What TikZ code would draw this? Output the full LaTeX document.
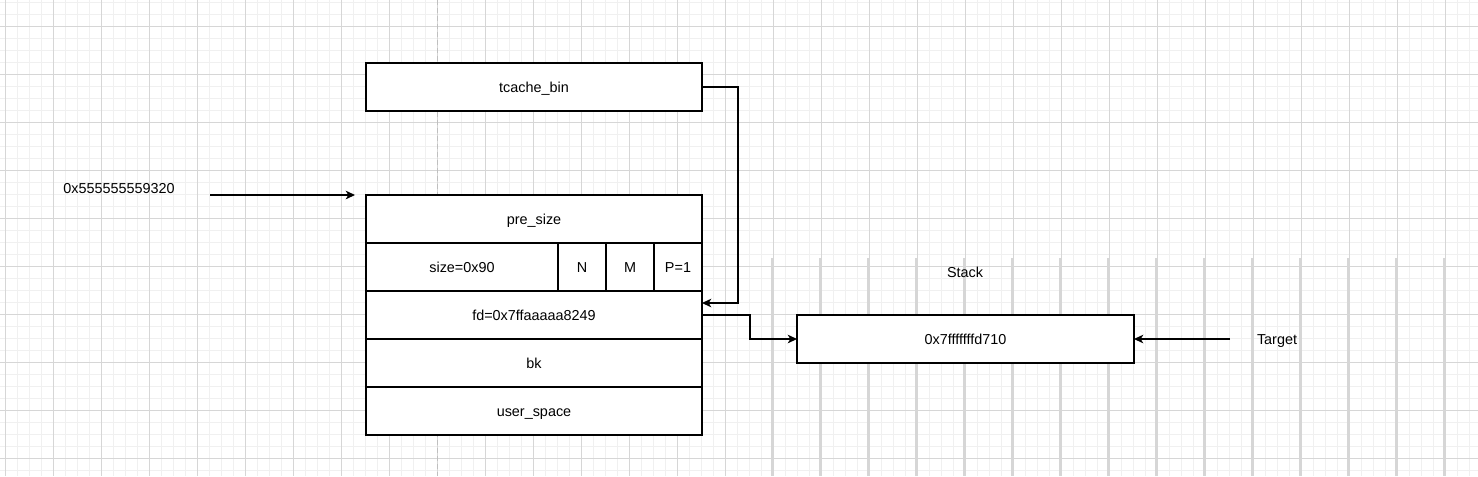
\documentclass[tikz,border=0pt]{standalone}
\usepackage{fontspec}
\setmainfont{Liberation Sans}
\usetikzlibrary{arrows.meta}

\definecolor{gridmajor}{HTML}{D6D6D6}
\definecolor{gridminor}{HTML}{F0F0F0}

\begin{document}
\begin{tikzpicture}[x=0.75pt, y=-0.75pt,
  >={Stealth[length=7pt,width=6.5pt,inset=2pt]},
  cell/.style={draw, fill=white, line width=0.9pt, minimum height=36pt,
    inner sep=0pt, outer sep=0pt, text height=9pt, text depth=1.3pt,
    font=\fontsize{10.8}{13}\selectfont},
  lbl/.style={inner sep=0pt, text height=9pt, text depth=1.3pt,
    font=\fontsize{10.8}{13}\selectfont},
  link/.style={->, line width=0.9pt}]

  % Pozadi a mrizka
\useasboundingbox[fill=white] (0,0) rectangle (1478,476);
\foreach \x in {5,17,...,1477} \draw[gridminor, line width=0.75pt] (\x,0) -- (\x,476);
\foreach \y in {2,14,...,476} \draw[gridminor, line width=0.75pt] (0,\y) -- (1478,\y);
\foreach \x in {5,53,...,1445} \draw[gridmajor, line width=0.75pt] (\x,0) -- (\x,476);
\foreach \y in {26,74,...,458} \draw[gridmajor, line width=0.75pt] (0,\y) -- (1478,\y);
\foreach \x in {772,820,...,1444} \draw[gridmajor, line width=1.05pt] (\x,258) -- (\x,476);
\draw[black!25, line width=0.75pt, dash pattern=on 4pt off 2pt] (437,0) -- (437,476);

  % tcache a chunk
\node[cell, minimum width=252pt] (tcache) at (534,87) {tcache\_bin};

\node[cell, minimum width=252pt] (presize) at (534,219) {pre\_size};
\node[cell, minimum width=144pt] (size) at (462,267) {size=0x90};
\node[cell, minimum width=36pt] (flagn) at (582,267) {N};
\node[cell, minimum width=36pt] (flagm) at (630,267) {M};
\node[cell, minimum width=36pt] (flagp) at (678,267) {P=1};
\node[cell, minimum width=252pt] (fd) at (534,315) {fd=0x7ffaaaaa8249};
\node[cell, minimum width=252pt] (bk) at (534,363) {bk};
\node[cell, minimum width=252pt] (user) at (534,411) {user\_space};

  % Stack
\node[lbl] (stacklbl) at (965,272) {Stack};
\node[cell, minimum width=252.75pt] (stack) at (965.5,339) {0x7fffffffd710};
\node[lbl] (target) at (1277,339) {Target};
\node[lbl] (addr) at (119,188) {0x555555559320};

  % Sipky
\coordinate (addrstart) at (210,195);
\coordinate (addrend) at (355,195);
\coordinate (tgtstart) at (1230,339);

\draw[link] (addrstart) -- (addrend);
\draw[link] (tcache.east) -- ++(36,0) |- ([yshift=9pt]fd.east);
\draw[link] (fd.east) -- ++(48,0) |- (stack.west);
\draw[link] (tgtstart) -- (stack.east);
\end{tikzpicture}
\end{document}
